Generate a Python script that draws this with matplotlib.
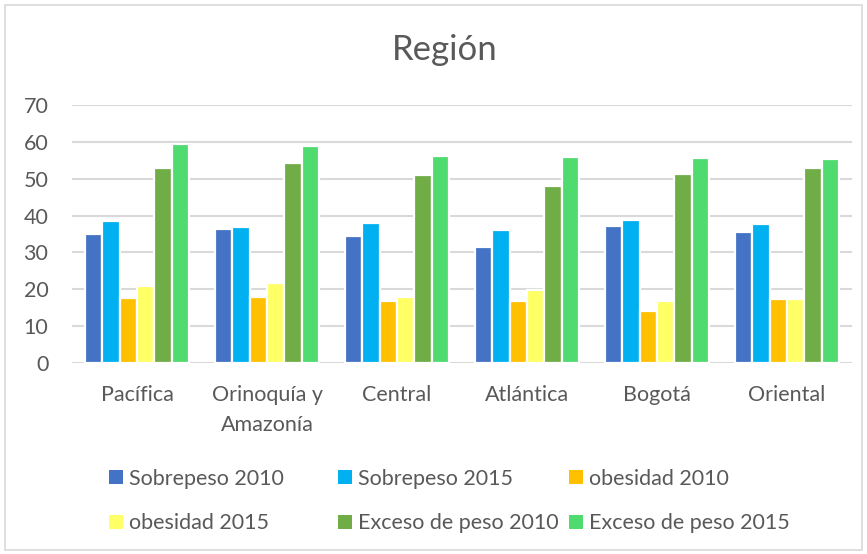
import matplotlib
matplotlib.use("Agg")
import matplotlib.pyplot as plt
from matplotlib.patches import Rectangle, Patch
import numpy as np

plt.rcParams['font.family'] = ['Lato', 'DejaVu Sans']

categories = ["Pacífica", "Orinoquía y\nAmazonía", "Central", "Atlántica", "Bogotá", "Oriental"]
series_names = ["Sobrepeso 2010", "Sobrepeso 2015", "obesidad 2010",
                "obesidad 2015", "Exceso de peso 2010", "Exceso de peso 2015"]
sobrepeso_2010 = [35.1, 36.3, 34.4, 31.4, 37.1, 35.5]
sobrepeso_2015 = [38.4, 37.0, 38.1, 36.0, 38.9, 37.7]
obesidad_2010 = [17.6, 17.8, 16.7, 16.7, 14.0, 17.3]
obesidad_2015 = [20.9, 21.7, 17.8, 19.9, 16.7, 17.5]
exceso_2010 = [52.8, 54.3, 51.0, 48.0, 51.3, 52.8]
exceso_2015 = [59.5, 58.8, 56.2, 55.9, 55.6, 55.3]
yticks = [0, 10, 20, 30, 40, 50, 60, 70]

series = [sobrepeso_2010, sobrepeso_2015, obesidad_2010, obesidad_2015, exceso_2010, exceso_2015]
colors = ["#4472C4", "#00B0F0", "#FFC000", "#FFFF66", "#70AD47", "#4FDB70"]

fig = plt.figure(figsize=(8.67, 5.54), dpi=100)
ax = fig.add_axes([72/867, 1-363/554, 780/867, 258/554])

x = np.arange(len(categories))
n = len(series)
pitch = 0.8 / n
handles = []
for i, (vals, c, name) in enumerate(zip(series, colors, series_names)):
    off = (i - (n - 1) / 2) * pitch
    ax.bar(x + off, vals, width=pitch, color=c, edgecolor="white", linewidth=1.6, zorder=3)
    handles.append(Patch(facecolor=c, edgecolor="none", label=name))

ax.set_xlim(-0.5, len(categories) - 0.5)
ax.set_ylim(0, 70)
ax.set_yticks(yticks)
ax.set_xticks(x)
ax.set_xticklabels(categories, fontsize=15.5, color="#595959", linespacing=1.6)
ax.tick_params(axis='y', labelsize=15.5, labelcolor="#595959", length=0, pad=17)
ax.tick_params(axis='x', length=0, pad=16)
ax.grid(axis='y', color="#D9D9D9", linewidth=1.5, zorder=0)
for s in ax.spines.values():
    s.set_visible(False)
ax.set_axisbelow(True)

fig.text(445/867, 1-50/554, "Región", ha="center", va="center", fontsize=25, color="#595959")

col_x = [98, 327, 558]
for ci, cx in enumerate(col_x):
    idx = [ci, ci + 3]
    leg = fig.legend([handles[i] for i in idx], [series_names[i] for i in idx],
                     ncol=1, loc="center left", bbox_to_anchor=(cx/867, 1-501/554),
                     frameon=False, fontsize=15.5, labelcolor="#595959",
                     handlelength=0.65, handleheight=0.65, handletextpad=0.3,
                     labelspacing=1.15, borderpad=0.0)

fig.patches.append(Rectangle((5/867, 4/554), 857/867, 545/554, transform=fig.transFigure,
                             fill=False, edgecolor="#D9D9D9", linewidth=1.2))

fig.savefig("out.png", dpi=100, facecolor="white")
